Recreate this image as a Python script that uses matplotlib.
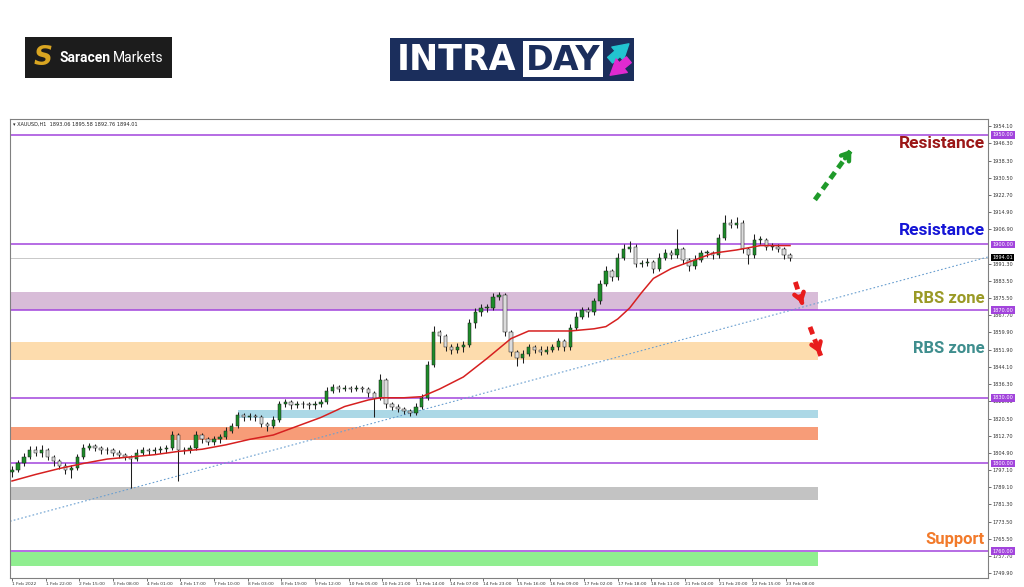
import numpy as np
import matplotlib
matplotlib.use("Agg")
import matplotlib.pyplot as plt
from matplotlib.patches import Rectangle, FancyArrowPatch
from matplotlib.transforms import blended_transform_factory

# ---------------- data ----------------
symbol_header = "\u25be XAUUSD,H1  1893.06 1895.58 1892.76 1894.01"
bar_step = 3          # each drawn candle spans 3 H1 bars
first_open = 1796.0
closes = [1797, 1800, 1803, 1806, 1805, 1806, 1803, 1801, 1799, 1797,
          1798, 1803, 1807, 1808, 1807, 1806, 1806, 1805, 1804, 1803,
          1802, 1805, 1806, 1805.5, 1806, 1806.5, 1807, 1813, 1806, 1806,
          1807, 1813, 1811, 1810, 1811, 1812, 1815, 1817, 1822, 1821,
          1821.5, 1821, 1818, 1817, 1820, 1827, 1828, 1826.5, 1827, 1827,
          1826.5, 1827, 1828, 1833, 1835, 1834, 1834.5, 1834, 1834.5, 1834,
          1832, 1830, 1838, 1827, 1826, 1825, 1824, 1823, 1826, 1830,
          1845, 1860, 1858, 1853, 1852, 1853, 1854, 1864, 1869, 1871,
          1871, 1876, 1877, 1860, 1851, 1848, 1850, 1853, 1852, 1851,
          1852, 1853, 1856, 1853, 1862, 1867, 1870, 1869, 1874, 1882,
          1888, 1885, 1894, 1898, 1899, 1891, 1891.5, 1892, 1889, 1894,
          1896, 1895, 1898, 1893, 1890, 1893, 1896, 1896, 1895, 1903,
          1910, 1909, 1910, 1898, 1895, 1902, 1902, 1899, 1899, 1898,
          1895, 1894]
highs = [1799, 1801.5, 1805, 1808, 1808, 1808.5, 1807, 1804, 1802, 1800,
         1799.5, 1804.5, 1809, 1809.5, 1809, 1808, 1807.5, 1807, 1806, 1805,
         1804, 1806.5, 1807.5, 1807, 1807.5, 1808, 1808.5, 1815, 1814, 1807.5,
         1808.5, 1815, 1814, 1812, 1812.5, 1813.5, 1816.5, 1818.5, 1823.5, 1823,
         1823, 1822.5, 1822, 1819, 1821.5, 1828.5, 1829.5, 1829, 1828.5, 1828.5,
         1828, 1828.5, 1829.5, 1835, 1836.5, 1836, 1836, 1835.5, 1836, 1835.5,
         1835, 1833, 1841, 1839, 1828, 1827, 1826, 1825, 1827.5, 1831.5,
         1847, 1863, 1861, 1859, 1854.5, 1855, 1856, 1866, 1871, 1873,
         1873, 1878, 1878.5, 1878, 1861, 1852, 1852, 1854.5, 1854, 1853.5,
         1853.5, 1854.5, 1857.5, 1857, 1863.5, 1869, 1871.5, 1871.5, 1875.5, 1884,
         1890, 1889, 1896, 1900, 1901.5, 1900, 1893, 1894, 1893, 1896,
         1898, 1897.5, 1907, 1899, 1894, 1895, 1897.5, 1897.5, 1897, 1905,
         1913.6, 1911.5, 1912.5, 1911, 1899, 1905, 1904, 1903, 1900.5, 1900,
         1899, 1896]
lows = [1794, 1796, 1799, 1802, 1803.5, 1803, 1801.5, 1799, 1797.5, 1795,
        1793.5, 1797, 1802, 1806, 1805.5, 1804.5, 1804.5, 1803.5, 1802.5, 1801.5,
        1789, 1801, 1804, 1804, 1804.5, 1805, 1805, 1806, 1792, 1804.5,
        1805, 1806, 1809.5, 1808.5, 1808.5, 1809.5, 1811, 1814, 1816, 1819.5,
        1820, 1819.5, 1816.5, 1815, 1816, 1819, 1826, 1825, 1825.5, 1825.5,
        1825, 1825, 1826, 1827, 1832, 1832.5, 1833, 1832.5, 1833, 1832.5,
        1830.5, 1821, 1829, 1825.5, 1824.5, 1823.5, 1822.5, 1821.5, 1822, 1825,
        1829, 1844, 1855, 1851.5, 1850, 1850.5, 1851, 1853, 1862, 1867.5,
        1869, 1870, 1874.5, 1858, 1849, 1844.5, 1846, 1849, 1850.5, 1849.5,
        1850, 1851, 1852, 1851.5, 1852, 1861, 1866, 1867, 1868, 1873,
        1881, 1883.5, 1884, 1893, 1896.5, 1889.5, 1889.5, 1890, 1887, 1888,
        1893, 1893.5, 1894, 1891, 1888, 1889, 1892, 1894.5, 1893.5, 1894,
        1902, 1907.5, 1907.5, 1896, 1891, 1894, 1900, 1897.5, 1897.5, 1896.5,
        1893.5, 1892.5]

# moving average (read at selected candle indices)
ma_idx = [0, 4, 8, 12, 16, 20, 24, 28, 32, 36, 40, 44, 48, 52, 56, 60, 62, 66,
          69, 72, 76, 80, 84, 87, 90, 94, 98, 100, 102, 104, 106, 108, 111, 114,
          118, 122, 126, 131]
ma_val = [1792, 1795, 1797.7, 1800, 1802, 1803, 1804, 1805.5, 1806.5, 1808.5,
          1811, 1813, 1817, 1821, 1826, 1829, 1830, 1830, 1830.5, 1834, 1839.5,
          1848, 1857, 1860.5, 1860.5, 1860.5, 1861.5, 1862.5, 1866, 1871, 1878,
          1884.5, 1889, 1892, 1896, 1897.5, 1899.5, 1899.5]

# horizontal levels
level_prices = [1950.0, 1900.0, 1870.0, 1830.0, 1800.0, 1760.0]
current_price = 1894.01

# zones (price low, price high, start bar, end bar, colour)
zone_lo = [1870.0, 1847.3, 1820.9, 1810.9, 1783.2, 1753.2]
zone_hi = [1878.2, 1855.5, 1824.5, 1816.8, 1789.1, 1759.5]
zone_x0 = [-1, -1, 114, -1, -1, -1]
zone_x1 = [407, 407, 407, 407, 407, 407]
zone_col = ["#d8bcd8", "#fddcad", "#acd8e6", "#f79c78", "#c3c3c3", "#90ee90"]

# trend line (dotted)
trend_x = [-1, 493]
trend_y = [1773.6, 1894.3]

# axis ticks
y_ticks = [1954.10, 1946.30, 1938.30, 1930.50, 1922.70, 1914.90, 1906.90,
           1891.30, 1883.50, 1875.50, 1867.70, 1859.90, 1851.90, 1844.10, 1836.30,
           1828.50, 1820.50, 1812.70, 1804.90, 1797.10, 1789.10, 1781.30, 1773.50,
           1765.50, 1757.70, 1749.90]
x_labels = ["1 Feb 2022", "1 Feb 22:00", "2 Feb 15:00", "3 Feb 08:00", "4 Feb 01:00",
            "4 Feb 17:00", "7 Feb 10:00", "8 Feb 03:00", "8 Feb 19:00", "9 Feb 12:00",
            "10 Feb 05:00", "10 Feb 21:00", "11 Feb 14:00", "14 Feb 07:00",
            "14 Feb 23:00", "15 Feb 16:00", "16 Feb 09:00", "17 Feb 02:00",
            "17 Feb 18:00", "18 Feb 11:00", "21 Feb 04:00", "21 Feb 20:00",
            "22 Feb 15:00", "23 Feb 08:00"]
x_label_step = 17

# annotations
notes = ["Resistance", "Resistance", "RBS zone", "RBS zone", "Support"]
note_y = [0.946, 0.756, 0.608, 0.499, 0.083]
note_col = ["#9b1616", "#1414d6", "#9a9a26", "#3f8e8e", "#f27a2a"]
note_size = [12.5, 12.5, 12, 12, 12]

# ---------------- figure ----------------
fig = plt.figure(figsize=(10.24, 5.87), dpi=100)
fig.patch.set_facecolor("white")
ax = fig.add_axes([10 / 1024, 9 / 587, 978 / 1024, 459 / 587])
ax.set_xlim(-1, 493)
ax.set_ylim(1747.7, 1957.3)

LEVEL_COL = "#a244dc"

# zones
for lo, hi, x0, x1, c in zip(zone_lo, zone_hi, zone_x0, zone_x1, zone_col):
    ax.add_patch(Rectangle((x0, lo), x1 - x0, hi - lo, facecolor=c,
                           edgecolor="none", zorder=1))

# levels
for p in level_prices:
    ax.axhline(p, color=LEVEL_COL, lw=1.1, zorder=2)
ax.axhline(current_price, color="#c8c8c8", lw=0.7, zorder=2)

# trend line
ax.plot(trend_x, trend_y, ls=(0, (1.5, 2)), color="#6a9fd0", lw=0.8, zorder=2)

# candles
c_arr = np.array(closes, dtype=float)
o_arr = np.r_[first_open, c_arr[:-1]]
h_arr = np.array(highs, dtype=float)
l_arr = np.array(lows, dtype=float)
xs = bar_step * np.arange(len(c_arr))
ax.vlines(xs, l_arr, h_arr, color="#1e1e1e", lw=0.75, zorder=3)
bull = c_arr >= o_arr
body_lo = np.minimum(o_arr, c_arr)
body_h = np.maximum(np.abs(c_arr - o_arr), 0.35)
ax.bar(xs[bull], body_h[bull], bottom=body_lo[bull], width=1.7,
       color="#1e8c2a", edgecolor="#1a1a1a", lw=0.35, zorder=4)
ax.bar(xs[~bull], body_h[~bull], bottom=body_lo[~bull], width=1.7,
       color="#dcdcdc", edgecolor="#1a1a1a", lw=0.35, zorder=4)

# moving average
ax.plot(bar_step * np.array(ma_idx), ma_val, color="#d62020", lw=1.1, zorder=5)

# axes styling
for s in ["top", "left", "bottom", "right"]:
    ax.spines[s].set_color("#808080")
    ax.spines[s].set_linewidth(0.8)
ax.yaxis.tick_right()
ax.set_yticks(y_ticks)
ax.set_yticklabels([f"{v:.2f}" for v in y_ticks])
ax.tick_params(axis="y", labelsize=3.6, length=2, width=0.5, pad=1.5,
               colors="#333333")
ax.set_xticks(np.arange(len(x_labels)) * x_label_step)
ax.set_xticklabels(x_labels)
ax.tick_params(axis="x", labelsize=3.2, length=2, width=0.5, pad=1,
               colors="#333333")
for lab in ax.get_xticklabels():
    lab.set_horizontalalignment("left")

# highlighted price labels
tr = blended_transform_factory(ax.transAxes, ax.transData)
for p in level_prices:
    ax.text(1.0045, p, f"{p:.2f}", transform=tr, fontsize=3.6, color="white",
            va="center", ha="left", zorder=10,
            bbox=dict(boxstyle="square,pad=0.25", facecolor=LEVEL_COL,
                      edgecolor="none"), clip_on=False)
ax.text(1.0045, current_price, f"{current_price:.2f}", transform=tr, fontsize=3.6,
        color="white", va="center", ha="left", zorder=10,
        bbox=dict(boxstyle="square,pad=0.25", facecolor="black", edgecolor="none"),
        clip_on=False)

# header
ax.text(0.003, 0.993, symbol_header, transform=ax.transAxes, fontsize=3.6,
        va="top", ha="left", color="#222222", family=["DejaVu Sans"])

# annotation texts
for t, y, c, s in zip(notes, note_y, note_col, note_size):
    ax.text(0.997, y, t, transform=ax.transAxes, fontsize=s, fontweight="bold",
            color=c, ha="right", va="center", family=["Roboto", "DejaVu Sans"],
            zorder=11)

# arrows (axes fraction)
def dashed_arrow(p0, p1, color):
    p0 = np.array(p0); p1 = np.array(p1)
    ax.plot([p0[0], p1[0]], [p0[1], p1[1]], transform=ax.transAxes,
            color=color, lw=3.5, ls=(0, (1.6, 1.1)), solid_capstyle="butt",
            zorder=12)
    q = p1 - (p1 - p0) * 0.25
    ax.annotate("", xy=p1, xytext=q, xycoords="axes fraction",
                textcoords="axes fraction",
                arrowprops=dict(arrowstyle="->,head_length=0.5,head_width=0.35",
                                color=color, lw=3.2), zorder=12)

dashed_arrow((0.823, 0.824), (0.862, 0.938), "#1f9a2a")
dashed_arrow((0.803, 0.645), (0.811, 0.592), "#e81c1c")
dashed_arrow((0.818, 0.547), (0.829, 0.484), "#e81c1c")

# ---------------- logos ----------------
ft = fig.transFigure
W, H = 1024.0, 587.0
def fx(px): return px / W
def fy(py): return 1 - py / H

fig.add_artist(Rectangle((fx(25), fy(78)), fx(147), 41 / H, transform=ft,
                         facecolor="#1c1c1c", edgecolor="none"))
fig.text(fx(43), fy(58), "S", transform=ft, fontsize=19, fontweight="bold",
         color="#d9a521", ha="center", va="center", style="italic",
         family=["DejaVu Sans"])
fig.text(fx(59), fy(57.5), "Saracen", fontsize=10, fontweight="bold",
         color="white", ha="left", va="center", family=["Roboto", "DejaVu Sans"])
fig.text(fx(113), fy(57.5), "Markets", fontsize=10, color="white",
         ha="left", va="center", family=["Roboto", "DejaVu Sans"])

fig.add_artist(Rectangle((fx(390), fy(81)), fx(244), 43 / H, transform=ft,
                         facecolor="#1b2e5c", edgecolor="none"))
fig.text(fx(397), fy(60), "INTRA", fontsize=25, fontweight="bold",
         color="white", ha="left", va="center", family=["DejaVu Sans"])
fig.add_artist(Rectangle((fx(523), fy(77)), fx(80), 36 / H, transform=ft,
                         facecolor="white", edgecolor="none"))
fig.text(fx(563), fy(60), "DAY", fontsize=24, fontweight="bold",
         color="#1b2e5c", ha="center", va="center", family=["DejaVu Sans"])
fig.add_artist(FancyArrowPatch((fx(608), fy(62)), (fx(631), fy(42)),
                               transform=ft, arrowstyle="simple,head_length=1.2,head_width=1.4,tail_width=0.6",
                               mutation_scale=9, color="#22c3d0"))
fig.add_artist(FancyArrowPatch((fx(631), fy(58)), (fx(608), fy(77)),
                               transform=ft, arrowstyle="simple,head_length=1.2,head_width=1.4,tail_width=0.6",
                               mutation_scale=9, color="#e02ad0"))

fig.savefig("out.png", dpi=100)
